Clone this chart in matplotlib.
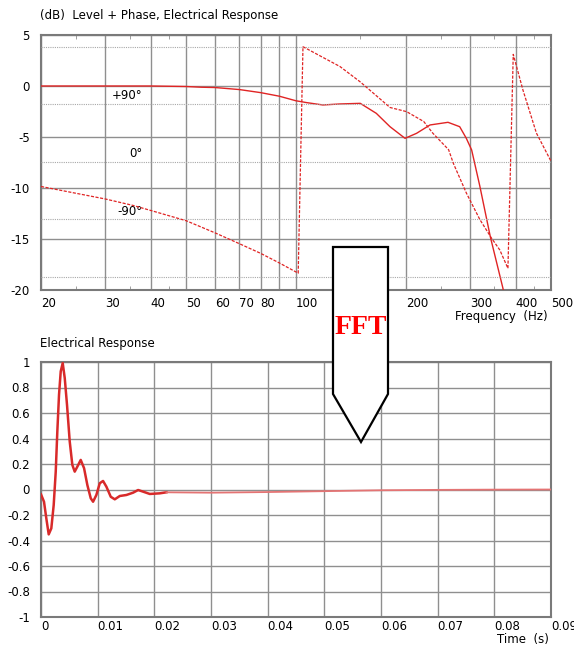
import matplotlib
matplotlib.use("Agg")
import matplotlib.pyplot as plt
from matplotlib.patches import Polygon
import numpy as np

plt.rcParams['font.family'] = 'DejaVu Sans'
plt.rcParams['font.size'] = 8.5

# level curve (dB)
level_freq = [20, 30, 40, 50, 55, 60, 70, 80, 90, 100, 107, 118.5, 132, 150,
              166, 181, 199, 214, 233, 261, 281, 293, 303, 319, 341, 369, 380]
level_db = [0, 0, 0, -0.05, -0.12, -0.15, -0.35, -0.65, -1.0, -1.45, -1.63, -1.86,
            -1.76, -1.70, -2.68, -3.99, -5.13, -4.64, -3.82, -3.56, -3.99, -5.13,
            -6.27, -9.8, -14.8, -19.8, -22.0]

# phase curve (degrees, wrapped)
phase_freq = [20, 30, 35.7, 40, 50, 60, 70, 80, 90, 101.4, 104.5, 132, 150, 181,
              201, 224, 237, 262, 270, 293, 319, 343, 362, 381, 394, 419, 456, 500]
phase_deg = [-38.5, -58, -68, -76, -92, -111, -128, -143, -158, -174, 180, 149,
             125, 85, 78.5, 63, 45, 19, -2.4, -48.6, -90, -118.7, -137.8, -166.5,
             168, 112, 45, 1]

# impulse response
imp_t = [0.0, 0.00053, 0.00094, 0.00136, 0.00182, 0.00224, 0.0026, 0.00288,
         0.00318, 0.00348, 0.00383, 0.00419, 0.00459, 0.00507, 0.00553, 0.00595,
         0.00641, 0.00701, 0.0076, 0.00818, 0.00878, 0.00919, 0.00977, 0.01037,
         0.01095, 0.01154, 0.01231, 0.01302, 0.0139, 0.01507, 0.01625, 0.01714,
         0.01802, 0.0192, 0.02097, 0.02214, 0.03, 0.04, 0.05, 0.06, 0.07, 0.08, 0.09]
imp_v = [-0.038, -0.096, -0.227, -0.352, -0.305, -0.122, 0.14, 0.454, 0.743,
         0.926, 0.992, 0.874, 0.664, 0.376, 0.193, 0.14, 0.179, 0.232, 0.167,
         0.035, -0.069, -0.096, -0.043, 0.049, 0.067, 0.022, -0.057, -0.077,
         -0.051, -0.043, -0.025, -0.004, -0.017, -0.035, -0.03, -0.022, -0.025,
         -0.02, -0.013, -0.006, -0.003, -0.001, 0.0]

freq_ticks = [20, 30, 40, 50, 60, 70, 80, 90, 100, 200, 300, 400, 500]
freq_labels = ['20', '30', '40', '50', '60', '70', '80', '', '100', '200', '300', '400', '500']
freq_minor = [25, 35, 45, 150, 250, 350, 450]
phase_lines = [-180, -90, 0, 90, 180]
phase_labels = {90: '+90°', 0: '0°', -90: '-90°'}
time_ticks = [0, 0.01, 0.02, 0.03, 0.04, 0.05, 0.06, 0.07, 0.08, 0.09]
amp_ticks = [-1, -0.8, -0.6, -0.4, -0.2, 0, 0.2, 0.4, 0.6, 0.8, 1]

W, H = 574, 647
fig = plt.figure(figsize=(W / 100, H / 100), dpi=100)

def px_axes(x0, y0, x1, y1):
    return fig.add_axes([x0 / W, 1 - y1 / H, (x1 - x0) / W, (y1 - y0) / H])

red = '#e02424'
grid_c = '#8f8f8f'
spine_c = '#7a7a7a'

# ---- top chart: level + phase
ax = px_axes(41, 35, 551, 290)
ax.set_xscale('log')
ax.set_xlim(20, 500)
ax.set_ylim(-20, 5)
ax.set_xticks(freq_ticks)
ax.set_xticklabels(freq_labels, ha='left')
ax.set_xticks(freq_minor, minor=True)
ax.set_xticklabels([], minor=True)
ax.set_yticks([-20, -15, -10, -5, 0, 5])
ax.set_yticklabels(['-20', '-15', '-10', '-5', '0', '5'])
ax.tick_params(axis='both', which='major', length=0, pad=8)
ax.tick_params(axis='x', which='major', pad=5)
ax.tick_params(axis='x', which='minor', direction='in', length=3, top=True,
               bottom=True, color=grid_c)
ax.grid(True, which='major', color=grid_c, lw=1)
ax.set_axisbelow(True)
for s in ax.spines.values():
    s.set_color(spine_c)
    s.set_linewidth(1.5)
ax.plot(level_freq, level_db, color=red, lw=1.0, zorder=3)

ph = ax.twinx()
ph.set_ylim(-200.3, 198.3)
ph.set_yticks([])
for s in ph.spines.values():
    s.set_visible(False)
for p in phase_lines:
    ph.axhline(p, color='#a8a8a8', lw=0.8, ls=(0, (1, 1)), zorder=1)
for p, lab in phase_labels.items():
    ph.text(38, p + 3, lab, ha='right', va='bottom')
ph.plot(phase_freq, phase_deg, color=red, lw=0.9, ls=(0, (2.5, 1.2)), zorder=3)
ph.set_xlim(20, 500)

fig.text(40 / W, 1 - 15 / H, '(dB)  Level + Phase, Electrical Response',
         ha='left', va='center')
fig.text(548 / W, 1 - 316 / H, 'Frequency  (Hz)', ha='right', va='center')

# ---- bottom chart: impulse response
bx = px_axes(41, 362, 551, 617)
bx.set_xlim(0, 0.09)
bx.set_ylim(-1, 1)
bx.set_xticks(time_ticks)
bx.set_xticklabels(['0'] + ['%g' % t for t in time_ticks[1:]], ha='left')
bx.set_yticks(amp_ticks)
bx.set_yticklabels(['%g' % a for a in amp_ticks])
bx.tick_params(axis='both', length=0, pad=8)
bx.tick_params(axis='x', pad=2.5)
bx.grid(True, color=grid_c, lw=1)
bx.set_axisbelow(True)
for s in bx.spines.values():
    s.set_color(spine_c)
    s.set_linewidth(1.5)
split = 35
bx.plot(imp_t[:split + 1], imp_v[:split + 1], color='#d82a2a', lw=1.8, zorder=3)
bx.plot(imp_t[split:], imp_v[split:], color='#e47474', lw=1.3, zorder=3)

fig.text(40 / W, 1 - 343 / H, 'Electrical Response', ha='left', va='center')
fig.text(549 / W, 1 / H, 'Time  (s)', ha='right', va='bottom')

# ---- FFT arrow
arrow_px = [(333, 247), (388, 247), (388, 394), (361, 442), (333, 394)]
arrow = Polygon([(x / W, 1 - y / H) for x, y in arrow_px], closed=True,
                transform=fig.transFigure, facecolor='white', edgecolor='black',
                lw=1.6, zorder=10)
fig.patches.append(arrow)
fig.text(361 / W, 1 - 327 / H, 'FFT', ha='center', va='center', color='red',
         fontsize=20, fontweight='bold', family='Liberation Serif', zorder=11)

fig.savefig('out.png', dpi=100)
